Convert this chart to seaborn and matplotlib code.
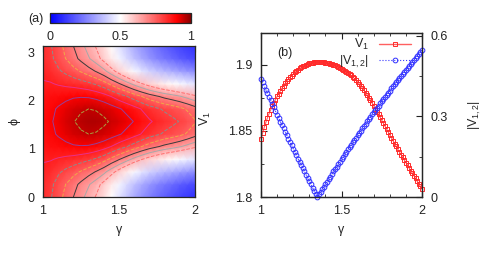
import numpy as np
import pandas as pd
import matplotlib
matplotlib.use('Agg')
import matplotlib.pyplot as plt
import seaborn as sns
from matplotlib.colors import LinearSegmentedColormap
from matplotlib.lines import Line2D
from matplotlib.ticker import MultipleLocator

# ---- panel (a): field on the (gamma, phi) plane ----
# one row per gamma (1.0 .. 2.0, step 0.05), values at phi = 0, 15, 30, 45, 60, 75, 90 deg
# (the map is symmetric about phi = pi/2)
map_gamma = [1.00, 1.05, 1.10, 1.15, 1.20, 1.25, 1.30, 1.35, 1.40, 1.45, 1.50,
             1.55, 1.60, 1.65, 1.70, 1.75, 1.80, 1.85, 1.90, 1.95, 2.00]
map_half = [
    [0.825, 0.829, 0.840, 0.854, 0.868, 0.877, 0.880],
    [0.805, 0.812, 0.829, 0.853, 0.875, 0.890, 0.895],
    [0.770, 0.780, 0.808, 0.846, 0.881, 0.905, 0.912],
    [0.735, 0.749, 0.788, 0.839, 0.887, 0.920, 0.930],
    [0.700, 0.718, 0.767, 0.832, 0.894, 0.935, 0.948],
    [0.665, 0.687, 0.745, 0.822, 0.896, 0.945, 0.960],
    [0.630, 0.655, 0.721, 0.810, 0.894, 0.950, 0.967],
    [0.595, 0.622, 0.696, 0.793, 0.885, 0.947, 0.966],
    [0.555, 0.581, 0.664, 0.770, 0.870, 0.937, 0.958],
    [0.500, 0.533, 0.621, 0.737, 0.848, 0.922, 0.945],
    [0.445, 0.480, 0.576, 0.704, 0.824, 0.905, 0.930],
    [0.390, 0.428, 0.532, 0.670, 0.801, 0.888, 0.915],
    [0.335, 0.376, 0.488, 0.635, 0.775, 0.869, 0.898],
    [0.290, 0.333, 0.449, 0.603, 0.749, 0.847, 0.877],
    [0.250, 0.294, 0.414, 0.573, 0.724, 0.825, 0.856],
    [0.215, 0.261, 0.384, 0.548, 0.704, 0.808, 0.840],
    [0.185, 0.232, 0.358, 0.526, 0.685, 0.792, 0.825],
    [0.160, 0.208, 0.337, 0.508, 0.670, 0.779, 0.812],
    [0.135, 0.183, 0.315, 0.488, 0.653, 0.764, 0.798],
    [0.115, 0.163, 0.295, 0.468, 0.633, 0.744, 0.778],
    [0.095, 0.143, 0.274, 0.447, 0.611, 0.721, 0.755],
]
contour_levels = [0.60, 0.65, 0.70, 0.75, 0.80, 0.85, 0.90, 0.95]
contour_colors = ['#ff6f6f', '#a8a8a8', '#3a3a3a', '#f0a848', '#8c8c8c', '#e8308c', '#94409c', '#a8a040']
contour_styles = ['--', '-', '-', '--', '--', '-', '-', '--']

# ---- panel (b): V1 and |V1,2| against gamma (step 0.01) ----
gamma = np.round(np.arange(1.0, 2.0001, 0.01), 2)
v1 = [1.8440, 1.8485, 1.8526, 1.8564, 1.8598, 1.8630, 1.8658, 1.8685, 1.8711, 1.8736,
      1.8760, 1.8782, 1.8803, 1.8823, 1.8842, 1.8860, 1.8876, 1.8891, 1.8905, 1.8918,
      1.8930, 1.8942, 1.8953, 1.8963, 1.8972, 1.8980, 1.8987, 1.8993, 1.8999, 1.9005,
      1.9010, 1.9013, 1.9016, 1.9018, 1.9019, 1.9020, 1.9020, 1.9020, 1.9019, 1.9017,
      1.9015, 1.9013, 1.9010, 1.9007, 1.9004, 1.9000, 1.8995, 1.8990, 1.8985, 1.8978,
      1.8970, 1.8963, 1.8956, 1.8948, 1.8939, 1.8930, 1.8919, 1.8908, 1.8896, 1.8883,
      1.8870, 1.8855, 1.8840, 1.8824, 1.8807, 1.8790, 1.8771, 1.8751, 1.8731, 1.8711,
      1.8690, 1.8668, 1.8646, 1.8624, 1.8602, 1.8580, 1.8558, 1.8536, 1.8514, 1.8492,
      1.8470, 1.8448, 1.8426, 1.8404, 1.8382, 1.8360, 1.8340, 1.8320, 1.8300, 1.8280,
      1.8260, 1.8240, 1.8220, 1.8200, 1.8180, 1.8160, 1.8140, 1.8120, 1.8100, 1.8080,
      1.8060]
v12 = [0.440, 0.426, 0.413, 0.399, 0.386, 0.372, 0.359, 0.346, 0.333, 0.319,
       0.306, 0.293, 0.280, 0.268, 0.255, 0.242, 0.230, 0.217, 0.205, 0.192,
       0.180, 0.168, 0.156, 0.143, 0.131, 0.119, 0.107, 0.095, 0.083, 0.071,
       0.059, 0.047, 0.035, 0.024, 0.012, 0.000, 0.010, 0.019, 0.029, 0.038,
       0.048, 0.057, 0.067, 0.076, 0.086, 0.095, 0.104, 0.113, 0.123, 0.132,
       0.141, 0.150, 0.159, 0.168, 0.177, 0.186, 0.195, 0.204, 0.212, 0.221,
       0.230, 0.239, 0.247, 0.256, 0.264, 0.273, 0.281, 0.290, 0.298, 0.307,
       0.315, 0.323, 0.331, 0.340, 0.348, 0.356, 0.364, 0.372, 0.380, 0.388,
       0.396, 0.404, 0.412, 0.419, 0.427, 0.435, 0.443, 0.450, 0.458, 0.465,
       0.473, 0.480, 0.488, 0.495, 0.503, 0.510, 0.517, 0.524, 0.532, 0.539,
       0.546]

sns.set_style('ticks')
plt.rcParams['font.family'] = ['Liberation Sans', 'DejaVu Sans']
plt.rcParams['font.size'] = 9
plt.rcParams['mathtext.fontset'] = 'custom'
plt.rcParams['mathtext.rm'] = 'Liberation Sans'
plt.rcParams['mathtext.it'] = 'Liberation Sans:italic'
plt.rcParams['axes.linewidth'] = 0.9

fig = plt.figure(figsize=(4.91, 2.65), dpi=100)
W, H = 491.0, 265.0

def px_axes(x0, y0, x1, y1):
    return fig.add_axes([x0 / W, 1 - y1 / H, (x1 - x0) / W, (y1 - y0) / H])

ax1 = px_axes(43, 46, 195, 197)
cax = px_axes(50, 13, 191, 23)
ax2 = px_axes(261, 33, 422, 197)

# ---- (a) ----
half = np.array(map_half).T
Z = np.vstack([half, half[-2::-1]])
phi = np.linspace(0, np.pi, Z.shape[0])
G, P = np.meshgrid(map_gamma, phi)
cmap = LinearSegmentedColormap.from_list(
    'bwr_gp', [(0, '#0000ff'), (0.5, '#ffffff'), (0.9, '#ff0000'), (1.0, '#8b0000')])
mesh = ax1.pcolormesh(G, P, Z, cmap=cmap, vmin=0, vmax=1, shading='gouraud', rasterized=True)
ax1.contour(G, P, Z, levels=contour_levels, colors=contour_colors,
            linestyles=contour_styles, linewidths=0.7)
ax1.set_xlim(1, 2)
ax1.set_ylim(0, np.pi)
ax1.set_xticks([1, 1.5, 2])
ax1.set_xticklabels(['1', '1.5', '2'])
ax1.set_yticks([0, 1, 2, 3])
ax1.xaxis.set_minor_locator(MultipleLocator(0.1))
ax1.yaxis.set_minor_locator(MultipleLocator(0.5))
ax1.tick_params(which='both', direction='in', top=True, right=True, colors='#222222')
ax1.tick_params(which='major', length=4, pad=6)
ax1.tick_params(which='minor', length=2)
ax1.set_xlabel('γ')
ax1.set_ylabel('ϕ')
ax1.xaxis.set_label_coords(0.5, -0.18)
ax1.yaxis.set_label_coords(-0.15, 0.5)

cb = fig.colorbar(mesh, cax=cax, orientation='horizontal', ticks=[0, 0.5, 1])
cb.ax.set_xticklabels(['0', '0.5', '1'])
cb.ax.tick_params(direction='in', length=3, top=True, bottom=True, pad=6)
cb.outline.set_linewidth(0.9)
fig.text(28 / W, 1 - 19 / H, '(a)', ha='left', va='center')

# ---- (b) ----
df = pd.DataFrame({'gamma': gamma, 'V1': v1, 'V12': v12})
sns.lineplot(data=df, x='gamma', y='V1', ax=ax2, color='#ff6060', linewidth=0.8,
             marker='s', markersize=3.4, markerfacecolor='none',
             markeredgecolor='#ff2a2a', markeredgewidth=0.7, clip_on=False)
ax3 = ax2.twinx()
sns.lineplot(data=df, x='gamma', y='V12', ax=ax3, color='#3a3aff', linewidth=0.8,
             linestyle=':', marker='o', markersize=3.4, markerfacecolor='none',
             markeredgecolor='#3030ff', markeredgewidth=0.7, clip_on=False)

ax2.set_xlim(1, 2)
ax2.set_ylim(1.8, 1.924)
ax3.set_ylim(0, 0.61)
ax2.set_xticks([1, 1.5, 2])
ax2.set_xticklabels(['1', '1.5', '2'])
ax2.set_yticks([1.8, 1.85, 1.9])
ax2.set_yticklabels(['1.8', '1.85', '1.9'])
ax3.set_yticks([0, 0.3, 0.6])
ax3.set_yticklabels(['0', '0.3', '0.6'])
ax2.xaxis.set_minor_locator(MultipleLocator(0.1))
ax2.yaxis.set_minor_locator(MultipleLocator(0.025))
ax3.yaxis.set_minor_locator(MultipleLocator(0.15))
ax2.tick_params(which='both', direction='in', top=True, right=False, colors='#222222')
ax3.tick_params(which='both', direction='in', colors='#222222')
for a in (ax2, ax3):
    a.tick_params(which='major', length=4, pad=6)
    a.tick_params(which='minor', length=2)
ax2.set_xlabel('γ')
ax2.xaxis.set_label_coords(0.5, -0.165)
ax2.set_ylabel(r'V$_1$')
ax2.yaxis.set_label_coords(-0.30, 0.48)
ax3.set_ylabel(r'|V$_{1,2}$|')
ax3.yaxis.set_label_coords(1.28, 0.5)
ax2.text(0.10, 0.88, '(b)', transform=ax2.transAxes, ha='left', va='center')

handles = [
    Line2D([], [], color='#ff6060', lw=1.0, marker='s', markersize=3.4,
           markerfacecolor='none', markeredgecolor='#ff2a2a', markeredgewidth=0.7),
    Line2D([], [], color='#3a3aff', lw=0.8, linestyle=':', marker='o', markersize=3.4,
           markerfacecolor='none', markeredgecolor='#3030ff', markeredgewidth=0.7),
]
ax2.legend(handles, [r'V$_1$', r'|V$_{1,2}$|'], loc='upper right',
           bbox_to_anchor=(0.95, 0.99), frameon=False, markerfirst=False,
           handlelength=2.6, handletextpad=0.8, labelspacing=0.1,
           borderaxespad=0, borderpad=0.2)

fig.savefig('out.png', dpi=100)
